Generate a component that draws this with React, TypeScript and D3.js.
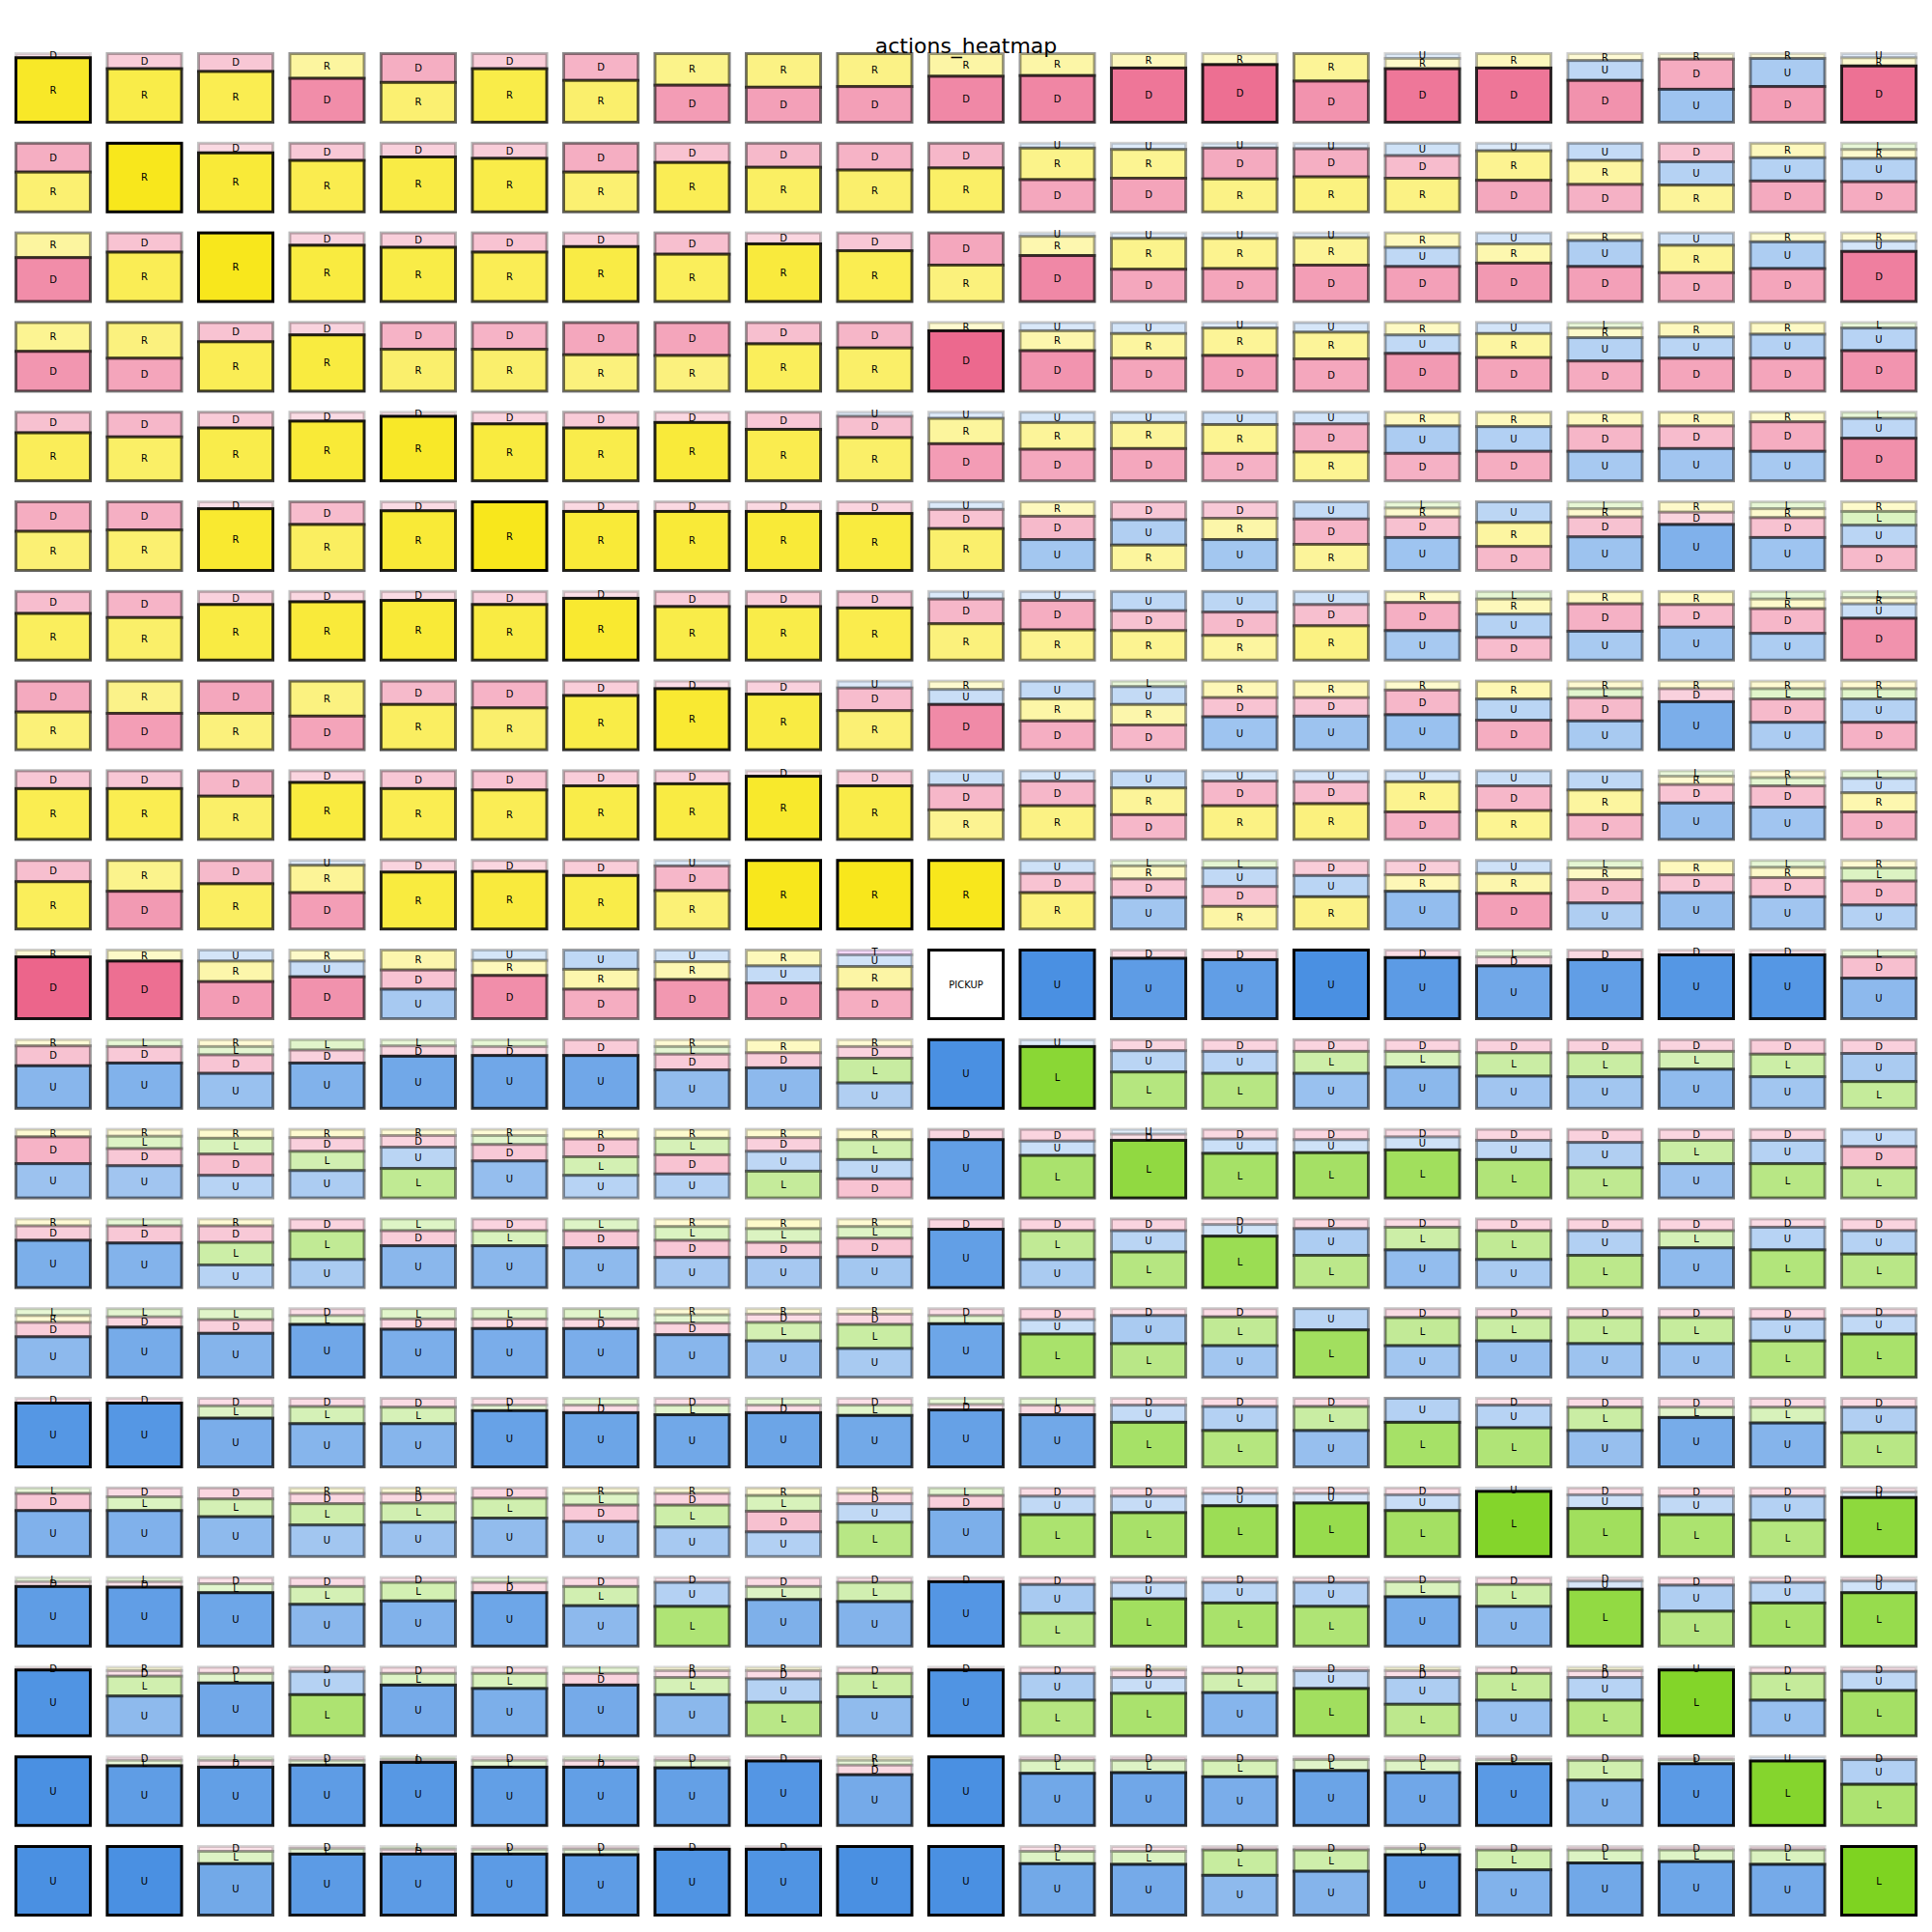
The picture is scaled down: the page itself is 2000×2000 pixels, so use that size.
import React from "react";
import * as d3 from "d3";

const ACTIONS = ["U", "D", "L", "R", "T"];
const ACTION_COLORS = ["#4A90E2", "#EA5680", "#7ED321", "#F8E71C", "#BD10E0"];
const TITLE = "actions_heatmap";
const SPECIAL = "PICKUP";

// each cell: segments listed top -> bottom, action letter + probability (%)
const row00 = ["D6 R94","D22 R78","D26 R74","R36 D64","D42 R58","D22 R78","D39 R61","R46 D54","R49 D51","R48 D52","R33 D67","R32 D68","R21 D79","R16 D84","R40 D60","U7 R15 D78","R21 D79","R10 U29 D61","R8 D44 U48","R7 U41 D52","U6 R12 D82"];
const row01 = ["D42 R58","R100","D14 R86","D25 R75","D20 R80","D22 R78","D42 R58","D28 R72","D35 R65","D39 R61","D36 R64","U7 R46 D47","U9 R42 D49","U7 D45 R48","U8 D41 R51","U18 D33 R49","U11 R43 D46","U25 R35 D40","D27 U34 R39","R21 U34 D45","L9 R13 U34 D44"];
const row02 = ["R36 D64","D28 R72","R100","D18 R82","D21 R79","D28 R72","D20 R80","D31 R69","D16 R84","D26 R74","D47 R53","U5 R28 D67","U8 R45 D47","U8 R44 D48","U7 R40 D53","R21 U28 D51","U16 R28 D56","R11 U38 D51","U18 R40 D42","R13 U39 D48","R12 U15 D73"];
const row03 = ["R42 D58","R52 D48","D28 R72","D18 R82","D39 R61","D39 R61","D47 R53","D48 R52","D31 R69","D37 R63","R12 D88","U12 R29 D59","U16 R36 D48","U8 R40 D52","U14 R39 D47","R18 U27 D55","U16 R35 D49","L8 R14 U34 D44","R21 U31 D48","R17 U35 D48","L8 U33 D59"];
const row04 = ["D30 R70","D36 R64","D23 R77","D13 R87","D6 R94","D17 R83","D23 R77","D15 R85","D25 R75","U6 D31 R63","U9 R37 D54","U15 R39 D46","U15 R38 D47","U18 R42 D40","U17 D41 R42","R20 U40 D40","R21 U36 D43","R20 D37 U43","R20 D33 U47","R14 D43 U43","L9 U29 D62"];
const row05 = ["D43 R57","D41 R59","D10 R90","D33 R67","D13 R87","R100","D14 R86","D14 R86","D14 R86","D17 R83","U11 D28 R61","R21 D34 U45","D26 U37 R37","D24 R31 U45","U25 D37 R38","L9 R13 D30 U48","U30 R35 D35","L10 R12 D29 U49","R15 D18 U67","L10 R13 D29 U48","R14 L20 U31 D35"];
const row06 = ["D32 R68","D38 R62","D19 R81","D15 R85","D13 R87","D19 R81","D10 R90","D22 R78","D22 R78","D24 R76","U11 D36 R53","U13 D43 R44","U28 D29 R43","U30 D34 R36","U19 D31 R50","R16 D41 U43","L11 R22 U34 D33","R18 D40 U42","R19 D33 U48","L11 R14 D36 U39","L9 R9 U21 D61"];
const row07 = ["D45 R55","R47 D53","D47 R53","R51 D49","D34 R66","D39 R61","D21 R79","D11 R89","D19 R81","U10 D33 R57","R12 U22 D66","U26 R32 D42","L8 U26 R30 D36","R24 D28 U48","R24 D27 U49","R13 D36 U51","R26 U31 D43","R11 L13 D34 U42","R11 D19 U70","R11 L15 D34 U40","R11 L15 U34 D40"];
const row08 = ["D26 R74","D26 R74","D37 R63","D17 R83","D26 R74","D28 R72","D22 R78","D19 R81","D8 R92","D22 R78","U21 D36 R43","U15 D36 R49","U25 R39 D36","U15 D36 R49","U16 D32 R52","U16 R44 D40","U22 D36 R42","U28 R36 D36","L8 R12 D27 U53","R10 L12 D31 U47","L11 U21 R28 D40"];
const row09 = ["D31 R69","R45 D55","D34 R66","U7 R40 D53","D17 R83","D16 R84","D22 R78","U8 D36 R56","R100","R100","R100","U19 D28 R53","L8 R19 D27 U46","L11 U27 D29 R33","D22 U31 R47","D21 R24 U55","U19 R29 D52","L11 R17 D34 U38","R21 D26 U53","L10 R15 D28 U47","R11 L19 D35 U35"];
const row10 = ["R10 D90","R16 D84","U16 R30 D54","R16 U23 D61","R29 D28 U43","U15 R22 D63","U28 R29 D43","U17 R26 D57","R23 U25 D52","T7 U17 R33 D43","PICKUP","U100","D12 U88","D14 U86","U100","D11 U89","L10 D13 U77","D14 U86","D7 U93","D7 U93","L10 D31 U59"];
const row11 = ["R9 D29 U62","L10 D24 U66","R10 L12 D27 U51","L15 D19 U66","L9 D15 U76","L10 D13 U77","D23 U77","R10 L11 D23 U56","R19 D22 U59","R10 D17 L36 U37","U100","U10 L90","D16 U31 L53","D17 U32 L51","D17 L32 U51","D17 L23 U60","D19 L34 U47","D19 L35 U46","D17 L26 U57","D21 L33 U46","D20 U41 L39"];
const row12 = ["R11 D39 U50","R10 L18 D25 U47","R13 L23 D31 U33","R12 D20 L28 U40","R9 D17 U31 L43","R9 L13 D24 U54","R14 D26 L27 U33","R13 L24 D28 U35","R12 D20 U29 L39","R15 L29 U28 D28","D15 U85","D17 U21 L62","U7 D9 L84","D14 U21 L65","D15 U19 L66","D11 U19 L70","D16 U28 L56","D19 U37 L44","D16 L34 U50","D16 U34 L50","U25 D31 L44"];
const row13 = ["R10 D21 U69","L10 D25 U65","R10 D24 L33 U33","D17 L42 U41","L17 D22 U61","D17 L22 U61","L17 D25 U58","R11 L20 D25 U44","R14 L20 D22 U44","R11 L17 D27 U45","D15 U85","D17 L42 U41","D17 U31 L52","D8 U17 L75","D14 U39 L47","D12 L33 U55","D17 L42 U41","D17 U36 L47","D17 L25 U58","D12 U33 L55","D17 U34 L49"];
const row14 = ["L10 R10 D21 U59","L12 D15 U73","L16 D20 U64","D10 L13 U77","L15 D15 U70","L15 D14 U71","L15 D14 U71","R9 L12 D17 U62","R8 D12 L27 U53","R8 D15 L35 U42","D10 L12 U78","D16 U21 L63","D10 U41 L49","D12 L42 U46","U31 L69","D13 L41 U46","D13 L34 U53","D13 L38 U49","D13 L38 U49","D15 U32 L53","D10 U27 L63"];
const row15 = ["D7 U93","D7 U93","D11 L18 U71","D12 L25 U63","D13 L24 U63","D10 L8 U82","L10 D11 U79","D10 L14 U76","L10 D11 U79","D10 L15 U75","L9 D8 U83","L10 D14 U76","D10 U25 L65","D12 U35 L53","D12 L35 U53","U35 L65","D10 U33 L57","D13 L34 U53","D13 L15 U72","D13 L23 U64","D13 U37 L50"];
const row16 = ["L8 D25 U67","D13 L20 U67","D16 L26 U58","R8 D15 L31 U46","R8 D14 L28 U50","D15 L29 U56","R8 L17 D24 U51","R8 D17 L32 U43","R11 L23 D30 U36","R8 D15 U27 L50","L11 D20 U69","D12 U27 L61","D12 U24 L64","D8 U18 L74","D8 U14 L78","D10 U23 L67","U5 L95","D10 U20 L70","D12 U27 L61","D12 U35 L53","D6 U8 L86"];
const row17 = ["L6 D7 U87","L6 D8 U86","D9 L13 U78","D13 L26 U61","D7 L27 U66","L7 D15 U78","D13 L28 U59","D7 U35 L58","D13 L19 U68","D7 L28 U65","D6 U94","D10 U42 L48","D7 U24 L69","D7 U30 L63","D7 U35 L58","D6 L22 U72","D10 L32 U58","D5 U12 L83","D11 U38 L51","D7 U30 L63","D5 U17 L78"];
const row18 = ["D4 U96","R5 D8 L29 U58","D9 L14 U77","D6 U34 L60","D9 L17 U74","D9 L22 U69","L9 D17 U74","R5 D10 L25 U60","R5 D12 U34 L49","D9 L34 U57","D4 U96","D9 U39 L52","R4 D11 U23 L62","D9 L28 U63","D5 U26 L69","R5 D10 U39 L46","D9 L39 U52","R5 D10 U33 L52","U4 L96","D9 L39 U52","D6 U28 L66"];
const row19 = ["U100","D5 L8 U87","L5 D10 U85","D5 L7 U88","L4 D4 U92","D5 L10 U85","L5 D10 U85","D5 L11 U84","D6 U94","R5 L7 D14 U74","U100","D5 L19 U76","D5 L18 U77","D5 L24 U71","D4 L16 U80","D5 L18 U77","D4 L6 U90","D5 L29 U66","D4 L6 U90","U6 L94","D4 U36 L60"];
const row20 = ["U100","U100","D7 L18 U75","D3 L8 U89","L4 D7 U89","D4 L7 U89","D4 L8 U88","D4 U96","D4 U96","U100","U100","D7 L18 U75","D7 L19 U74","D5 L37 U58","D5 L31 U64","D3 L9 U88","D5 L29 U66","D5 L19 U76","D5 L17 U78","D5 L21 U74","L100"];

const GRID = [row00,row01,row02,row03,row04,row05,row06,row07,row08,row09,row10,row11,row12,row13,row14,row15,row16,row17,row18,row19,row20];

type Seg = { a: string; p: number };

function parseCell(s: string): Seg[] | null {
  if (s === SPECIAL) return null;
  const segs = s.split(" ").map((t) => ({ a: t[0], p: +t.slice(1) / 100 }));
  const tot = d3.sum(segs, (d) => d.p) || 1;
  return segs.map((d) => ({ a: d.a, p: d.p / tot }));
}

export default function App() {
  const W = 2000, H = 2000;
  const n = GRID.length;
  const cellW = 77, cellH = 71;
  const colX = d3.scaleLinear().domain([0, n - 1]).range([16.5, 1906.5]);
  const rowY = d3.scaleLinear().domain([0, n - 1]).range([55.5, 1911.5]);
  const hScale = d3.scaleLinear().domain([0, 1]).range([0, cellH]);
  const alpha = d3.scaleLinear().domain([0, 1]).range([0.1, 1]);
  const color = d3.scaleOrdinal<string, string>().domain(ACTIONS).range(ACTION_COLORS);
  const font = "DejaVu Sans, sans-serif";

  const cells: React.ReactNode[] = [];
  GRID.forEach((rowArr, r) => {
    rowArr.forEach((spec, c) => {
      const x0 = colX(c);
      const y0 = rowY(r);
      const segs = parseCell(spec);
      if (!segs) {
        cells.push(
          <g key={`${r}-${c}`}>
            <rect x={x0} y={y0} width={cellW} height={cellH} fill="#fff" stroke="#000" strokeWidth={3} />
            <text x={x0 + cellW / 2} y={y0 + cellH / 2} textAnchor="middle" dominantBaseline="central" fontSize={10} fontFamily={font}>{SPECIAL}</text>
          </g>
        );
        return;
      }
      let acc = 0;
      const parts = segs.map((s) => {
        const top = y0 + hScale(acc);
        acc += s.p;
        const h = hScale(s.p);
        return { ...s, top, h };
      });
      cells.push(
        <g key={`${r}-${c}`}>
          {parts.map((s, i) => (
            <rect key={`r${i}`} x={x0} y={s.top} width={cellW} height={s.h}
              fill={color(s.a)} fillOpacity={alpha(s.p)}
              stroke="#000" strokeOpacity={alpha(s.p)} strokeWidth={3} />
          ))}
          {parts.map((s, i) => (
            <text key={`t${i}`} x={x0 + cellW / 2} y={s.top + s.h / 2}
              textAnchor="middle" dominantBaseline="central" fontSize={10} fontFamily={font} fill="#000">{s.a}</text>
          ))}
        </g>
      );
    });
  });

  return (
    <svg width={W} height={H} style={{ position: "absolute", left: 0, top: 0 }} xmlns="http://www.w3.org/2000/svg">
      <rect x={0} y={0} width={W} height={H} fill="#fff" />
      {cells}
      <text x={1000} y={55} textAnchor="middle" fontSize={22} fontFamily={font} fill="#000">{TITLE}</text>
    </svg>
  );
}
